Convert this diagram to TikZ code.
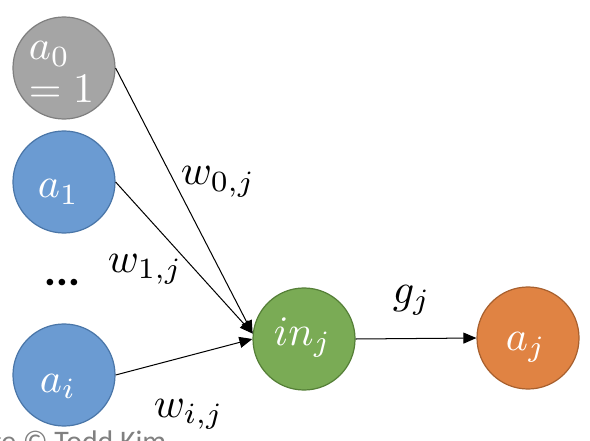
\documentclass[tikz,border=0pt]{standalone}
\usepackage{fontspec}
\newfontfamily\credfont{Carlito}
\usetikzlibrary{arrows.meta}
\definecolor{cgray}{HTML}{A5A5A5}
\definecolor{cgrayd}{HTML}{7F7F7F}
\definecolor{cblue}{HTML}{6B9BD2}
\definecolor{cblued}{HTML}{4A76A8}
\definecolor{cgreen}{HTML}{7AAB55}
\definecolor{cgreend}{HTML}{557F37}
\definecolor{corange}{HTML}{E08343}
\definecolor{coranged}{HTML}{A8602E}
\begin{document}
\begin{tikzpicture}[x=0.2381pt,y=-0.2381pt,
  neuron/.style={circle,minimum size=24.29pt,inner sep=0pt,line width=0.29pt},
  lbl/.style={font=\fontsize{10}{11}\selectfont,inner sep=0pt,anchor=base west},
  conn/.style={line width=0.24pt,-{Triangle[length=3.1pt,width=2.62pt]}}]
\useasboundingbox (0,0) rectangle (590,440);
\node[neuron,fill=cgray,draw=cgrayd] (a0) at (64,68) {};
\node[neuron,fill=cblue,draw=cblued] (a1) at (64,182) {};
\node[neuron,fill=cblue,draw=cblued] (ai) at (64,375) {};
\node[neuron,fill=cgreen,draw=cgreend] (inj) at (304,339) {};
\node[neuron,fill=corange,draw=coranged] (aj) at (528,338) {};

\node[lbl,text=white] (t0) at (28,60) {$a_0$};
\node[lbl,text=white] (t0b) at (28,103) {$=1$};
\node[lbl,text=white] (t1) at (37,198) {$a_1$};
\node[lbl,text=white] (ti) at (39,392) {$a_i$};
\node[lbl,text=white] (tin) at (273,345) {$in_j$};
\node[lbl,text=white] (taj) at (505,350) {$a_j$};

\node[lbl] (w0) at (180,185) {$w_{0,j}$};
\node[lbl] (w1) at (107,272) {$w_{1,j}$};
\node[lbl] (wi) at (153,417) {$w_{i,j}$};
\node[lbl] (gj) at (392,303) {$g_j$};

\node[font=\credfont\bfseries\fontsize{10.5}{11.5}\selectfont,anchor=base west,inner sep=0pt] (dots) at (44,285) {...};

\draw[conn] (a0.east) -- (inj.174);
\draw[conn] (a1.east) -- (inj.174);
\draw[conn] (ai.east) -- (inj.180);
\draw[conn] (inj.east) -- (aj.west);

\begin{scope}
\clip (0,0) rectangle (590,440);
\node[font=\credfont\fontsize{7.1}{8}\selectfont,text=gray,anchor=base west,inner sep=0pt] (cred) at (-59,451) {Image © Todd Kim};
\end{scope}
\end{tikzpicture}
\end{document}
